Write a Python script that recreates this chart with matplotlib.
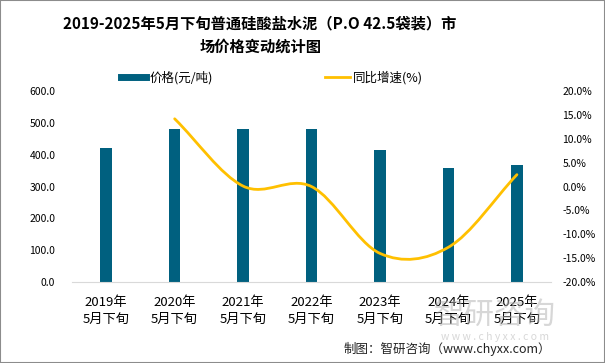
import numpy as np
import matplotlib
matplotlib.use('Agg')
import matplotlib.pyplot as plt
from matplotlib.path import Path
from matplotlib.patches import PathPatch, Rectangle
from matplotlib.lines import Line2D

plt.rcParams['font.family'] = ['Noto Sans CJK SC', 'DejaVu Sans']

# data
years = ['2019年', '2020年', '2021年', '2022年', '2023年', '2024年', '2025年']
period = '5月下旬'
price = [421, 481, 481, 481, 414, 358, 367]
growth = [None, 14.2, 0.1, 0.0, -14.0, -12.7, 2.5]

bar_color = '#00607F'
line_color = '#FFC000'

fig = plt.figure(figsize=(6.05, 3.63), dpi=100)
ax = fig.add_axes([0.119, 0.223, 0.792, 0.526])
ax2 = ax.twinx()

x = np.arange(len(years))
ax.bar(x, price, width=0.17, color=bar_color, zorder=2)
ax.set_xlim(-0.5, len(years) - 0.5)
ax.set_ylim(0, 600)
ax.set_yticks(np.arange(0, 601, 100))
ax.set_yticklabels(['%.1f' % v for v in np.arange(0, 601, 100)])
ax.set_xticks(x)
ax.set_xticklabels([y + '\n' + period for y in years], linespacing=1.35)
ax.tick_params(axis='x', length=0, pad=10, labelsize=9.5)
ax.tick_params(axis='y', length=0, pad=12, labelsize=7.5)

for s in ['top', 'right', 'left']:
    ax.spines[s].set_visible(False)
ax.spines['bottom'].set_color('#D9D9D9')
for s in ax2.spines.values():
    s.set_visible(False)

# smoothed growth line (catmull-rom through the points)
gx = [xi for xi, g in zip(x, growth) if g is not None]
gy = [g for g in growth if g is not None]
pts = np.column_stack([gx, gy]).astype(float)
ext = np.vstack([2 * pts[0] - pts[1], pts, 2 * pts[-1] - pts[-2]])
verts = [tuple(pts[0])]
codes = [Path.MOVETO]
for i in range(1, len(ext) - 2):
    p0, p1, p2, p3 = ext[i - 1], ext[i], ext[i + 1], ext[i + 2]
    c1 = p1 + (p2 - p0) / 6
    c2 = p2 - (p3 - p1) / 6
    verts += [tuple(c1), tuple(c2), tuple(p2)]
    codes += [Path.CURVE4] * 3
ax2.add_patch(PathPatch(Path(verts, codes), fill=False, edgecolor=line_color,
                        linewidth=2, capstyle='round', zorder=3))
ax2.set_ylim(-20, 20)
ax2.set_yticks(np.arange(-20, 21, 5))
ax2.set_yticklabels(['%.1f%%' % v for v in np.arange(-20, 21, 5)])
ax2.tick_params(axis='y', length=0, pad=8, labelsize=7.5)

# legend
handles = [Line2D([], [], color=bar_color, linewidth=5),
           Line2D([], [], color=line_color, linewidth=2)]
fig.legend(handles, ['价格(元/吨)', '同比增速(%)'], loc='center left',
           bbox_to_anchor=(0.2, 0.786), ncol=2, frameon=False, fontsize=9,
           handlelength=2.0, handletextpad=0.25, columnspacing=9.0,
           borderpad=0, borderaxespad=0)

# title
fig.text(0.43, 0.903, '2019-2025年5月下旬普通硅酸盐水泥（P.O 42.5袋装）市\n场价格变动统计图',
         ha='center', va='center', fontsize=11, fontweight='bold', linespacing=1.6)

# watermark and source
fig.text(0.818, 0.13, '智研咨询', ha='center', va='center', fontsize=22,
         color='#B0B0B0', alpha=0.5)
fig.text(0.818, 0.072, 'w w w . c h y x x . c o m', ha='center', va='center',
         fontsize=7.5, color='#B0B0B0', alpha=0.5)
fig.text(0.91, 0.04, '制图：智研咨询（www.chyxx.com）', ha='right', va='center',
         fontsize=9, color='#222222')

fig.patches.append(Rectangle((0, 0), 1, 1, transform=fig.transFigure, fill=False,
                             edgecolor='#8C8C8C', linewidth=1.5))

fig.savefig('out.png', dpi=100)
